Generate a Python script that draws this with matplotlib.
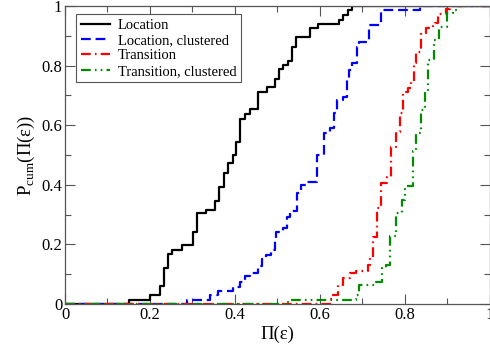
import matplotlib
matplotlib.use("Agg")
import matplotlib.pyplot as plt
from matplotlib.ticker import MultipleLocator, FuncFormatter

plt.rcParams['font.family'] = ['Liberation Serif', 'DejaVu Serif']
plt.rcParams['mathtext.fontset'] = 'custom'
plt.rcParams['mathtext.rm'] = 'Liberation Serif'
plt.rcParams['lines.scale_dashes'] = False

# ---- data: step positions (x) and cumulative levels after each step (y) ----
loc_x = [0.151, 0.200, 0.224, 0.233, 0.243, 0.253, 0.275, 0.302, 0.312, 0.333,
         0.353, 0.363, 0.374, 0.384, 0.395, 0.404, 0.413, 0.424, 0.435, 0.455,
         0.475, 0.495, 0.505, 0.514, 0.525, 0.535, 0.545, 0.576, 0.596, 0.645,
         0.655, 0.667, 0.675]
loc_y = [0.013, 0.030, 0.060, 0.122, 0.168, 0.181, 0.198, 0.242, 0.304, 0.317,
         0.346, 0.393, 0.438, 0.472, 0.500, 0.544, 0.622, 0.638, 0.653, 0.712,
         0.727, 0.754, 0.788, 0.802, 0.816, 0.863, 0.897, 0.925, 0.940, 0.953,
         0.970, 0.987, 1.000]

locc_x = [0.287, 0.341, 0.360, 0.395, 0.412, 0.424, 0.435, 0.454, 0.464, 0.473,
          0.485, 0.494, 0.498, 0.513, 0.522, 0.529, 0.546, 0.557, 0.567, 0.593,
          0.611, 0.624, 0.633, 0.640, 0.654, 0.665, 0.668, 0.676, 0.687, 0.693,
          0.715, 0.745, 0.776, 0.836]
locc_y = [0.013, 0.030, 0.042, 0.057, 0.074, 0.094, 0.104, 0.128, 0.151, 0.164,
          0.181, 0.215, 0.243, 0.255, 0.292, 0.312, 0.372, 0.400, 0.409, 0.500,
          0.574, 0.590, 0.641, 0.685, 0.696, 0.752, 0.785, 0.809, 0.863, 0.879,
          0.936, 0.987, 0.987, 1.000]

tr_x = [0.624, 0.628, 0.642, 0.654, 0.671, 0.685, 0.713, 0.718, 0.725, 0.735,
        0.745, 0.758, 0.769, 0.780, 0.788, 0.796, 0.807, 0.816, 0.821, 0.827,
        0.839, 0.851, 0.866, 0.872, 0.879, 0.898, 0.908]
tr_y = [0.017, 0.030, 0.064, 0.087, 0.104, 0.111, 0.131, 0.154, 0.225, 0.322,
        0.406, 0.426, 0.527, 0.577, 0.641, 0.711, 0.725, 0.745, 0.809, 0.847,
        0.909, 0.926, 0.936, 0.942, 0.973, 0.990, 1.000]

trc_x = [0.525, 0.685, 0.692, 0.733, 0.746, 0.756, 0.766, 0.779, 0.795, 0.800,
         0.819, 0.828, 0.839, 0.849, 0.856, 0.869, 0.882, 0.899, 0.913, 0.925]
trc_y = [0.015, 0.030, 0.064, 0.074, 0.121, 0.131, 0.228, 0.305, 0.349, 0.396,
         0.513, 0.574, 0.651, 0.711, 0.819, 0.886, 0.930, 0.977, 0.987, 1.000]

labels = ['Location', 'Location, clustered', 'Transition', 'Transition, clustered']
colors = ['#000000', '#0000ff', '#ff0000', '#008b00']
styles = ['-', (0, (7, 3.5)), (0, (7, 3, 1.2, 3)), (0, (7, 3, 1.2, 3, 1.2, 3))]

x_ticks = [0, 0.2, 0.4, 0.6, 0.8, 1.0]
y_ticks = [0, 0.2, 0.4, 0.6, 0.8, 1.0]

fig = plt.figure(figsize=(4.9, 3.45), dpi=100)
ax = fig.add_axes([65 / 490, 41 / 345, 424.5 / 490, 298 / 345])

series = [(loc_x, loc_y), (locc_x, locc_y), (tr_x, tr_y), (trc_x, trc_y)]
for (xs, ys), lab, c, ls in zip(series, labels, colors, styles):
    X = [0.0] + list(xs) + [1.0]
    Y = [0.0] + list(ys) + [ys[-1]]
    ax.step(X, Y, where='post', color=c, lw=1.6, linestyle=ls, label=lab)

ax.set_xlim(0, 1)
ax.set_ylim(0, 1)
ax.set_xticks(x_ticks)
ax.set_yticks(y_ticks)
fmt = FuncFormatter(lambda v, p: ('%g' % v))
ax.xaxis.set_major_formatter(fmt)
ax.yaxis.set_major_formatter(fmt)
ax.xaxis.set_minor_locator(MultipleLocator(0.1))
ax.yaxis.set_minor_locator(MultipleLocator(0.1))
ax.tick_params(which='both', direction='in', top=True, right=True, labelsize=12,
               width=0.8, color='#555555')
ax.tick_params(which='major', length=7, pad=2)
ax.tick_params(which='minor', length=4)
for s in ax.spines.values():
    s.set_linewidth(0.9)
    s.set_color('#555555')

ax.set_xlabel('Π(ε)', fontsize=13.5, labelpad=2)
ax.set_ylabel('P$_{\\rm cum}$(Π(ε))', fontsize=13.5, labelpad=3)

leg = ax.legend(loc='upper left', bbox_to_anchor=(0.027, 0.973), fontsize=10.5,
                frameon=True, fancybox=False, edgecolor='#555555', framealpha=1,
                handlelength=2.0, handletextpad=0.55, labelspacing=0.15,
                borderpad=0.3, borderaxespad=0.0)
leg.get_frame().set_linewidth(0.8)

fig.savefig('out.png', dpi=100)
